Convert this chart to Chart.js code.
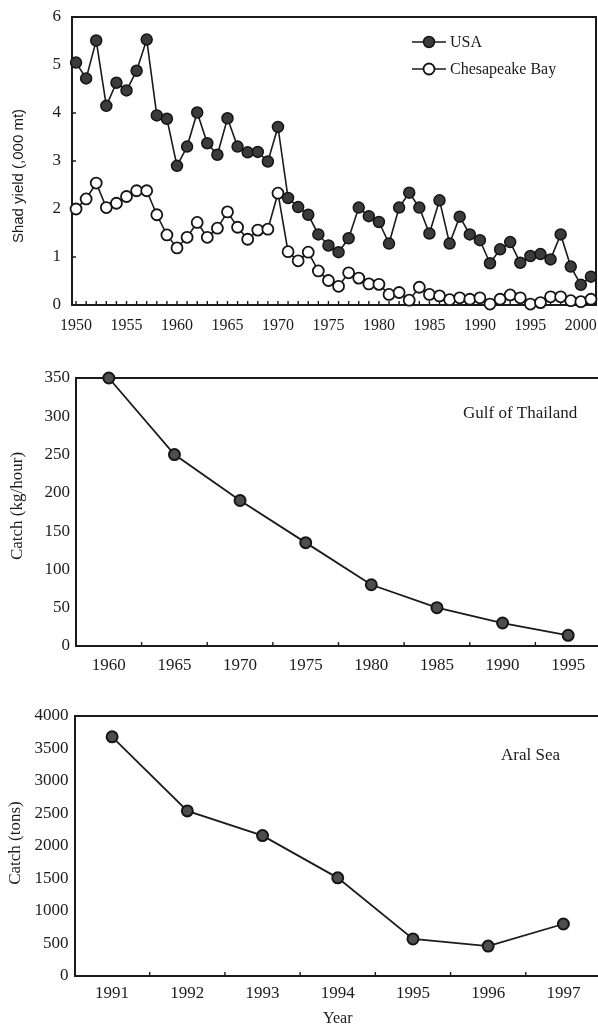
<!DOCTYPE html>
<html>
<head>
<meta charset="utf-8">
<script src="https://cdn.jsdelivr.net/npm/chart.js@4.4.0/dist/chart.umd.min.js"></script>
<style>
  html, body { margin: 0; padding: 0; background: #fff; overflow: hidden; width: 598px; height: 1030px; }
  .panel { position: absolute; left: 0; }
</style>
</head>
<body>
<div class="panel" style="top:0;width:598px;height:340px"><canvas id="shad"></canvas></div>
<div class="panel" style="top:340px;width:612px;height:350px"><canvas id="gulf"></canvas></div>
<div class="panel" style="top:690px;width:612px;height:340px"><canvas id="aral"></canvas></div>
<script>
// ---- Shad yield, 1950-2001 (thousand metric tons) ----
const shadYears = [1950, 1951, 1952, 1953, 1954, 1955, 1956, 1957, 1958, 1959,
                   1960, 1961, 1962, 1963, 1964, 1965, 1966, 1967, 1968, 1969,
                   1970, 1971, 1972, 1973, 1974, 1975, 1976, 1977, 1978, 1979,
                   1980, 1981, 1982, 1983, 1984, 1985, 1986, 1987, 1988, 1989,
                   1990, 1991, 1992, 1993, 1994, 1995, 1996, 1997, 1998, 1999,
                   2000, 2001];
const usaYield = [5.05, 4.72, 5.51, 4.15, 4.63, 4.47, 4.88, 5.53, 3.95, 3.88,
                  2.90, 3.30, 4.01, 3.37, 3.13, 3.89, 3.30, 3.18, 3.19, 2.99,
                  3.71, 2.23, 2.04, 1.88, 1.47, 1.24, 1.10, 1.39, 2.03, 1.85,
                  1.73, 1.28, 2.03, 2.34, 2.03, 1.49, 2.18, 1.28, 1.84, 1.47,
                  1.35, 0.87, 1.16, 1.31, 0.88, 1.02, 1.06, 0.95, 1.47, 0.80,
                  0.42, 0.59];
const chesapeakeYield = [2.00, 2.21, 2.54, 2.03, 2.12, 2.26, 2.38, 2.38, 1.88, 1.46,
                         1.19, 1.41, 1.72, 1.41, 1.60, 1.94, 1.62, 1.37, 1.56, 1.58,
                         2.33, 1.11, 0.92, 1.10, 0.71, 0.51, 0.39, 0.67, 0.56, 0.44,
                         0.43, 0.22, 0.26, 0.10, 0.37, 0.22, 0.19, 0.11, 0.15, 0.12,
                         0.15, 0.02, 0.12, 0.21, 0.15, 0.02, 0.05, 0.17, 0.17, 0.09,
                         0.07, 0.12];
const shadLabelYears = [1950, 1955, 1960, 1965, 1970, 1975, 1980, 1985, 1990, 1995, 2000];

// ---- Gulf of Thailand trawl catch rate (kg/hour) ----
const gulfYears = ['1960', '1965', '1970', '1975', '1980', '1985', '1990', '1995'];
const gulfCatch = [350, 250, 190, 135, 80, 50, 30, 14];

// ---- Aral Sea catch (tons) ----
const aralYears = ['1991', '1992', '1993', '1994', '1995', '1996', '1997'];
const aralCatch = [3680, 2540, 2160, 1510, 570, 460, 800];

const SERIF = '"Liberation Serif", "Times New Roman", serif';
const SANS = '"Liberation Sans", Arial, sans-serif';
const INK = '#1b1b1b';

Chart.defaults.font.family = SERIF;
Chart.defaults.color = INK;
Chart.defaults.animation = false;

// Closes the plot box (top and right edges) and draws short inward tick marks.
const frameMarks = {
  id: 'frameMarks',
  beforeDatasetsDraw(chart, args, opts) {
    const { ctx, chartArea: a, scales: { x, y } } = chart;
    ctx.save();
    ctx.strokeStyle = opts.color || INK;
    ctx.lineWidth = 2;
    ctx.beginPath();
    ctx.moveTo(a.left, a.top);
    ctx.lineTo(a.right, a.top);
    ctx.lineTo(a.right, a.bottom);
    ctx.stroke();
    ctx.lineWidth = 1.4;
    ctx.beginPath();
    if (opts.xMarks) {
      opts.xMarks(x).forEach(px => {
        ctx.moveTo(px, a.bottom);
        ctx.lineTo(px, a.bottom - opts.tickLen);
      });
    }
    if (opts.yMarks) {
      opts.yMarks(y).forEach(py => {
        ctx.moveTo(a.left, py);
        ctx.lineTo(a.left + opts.tickLen, py);
      });
    }
    ctx.stroke();
    ctx.restore();
  }
};

// Rotated y-axis caption and a free text note inside the plot.
const captions = {
  id: 'captions',
  afterDraw(chart, args, opts) {
    const ctx = chart.ctx;
    ctx.save();
    ctx.fillStyle = INK;
    ctx.textAlign = 'center';
    ctx.textBaseline = 'middle';
    if (opts.yTitle) {
      const t = opts.yTitle;
      ctx.save();
      ctx.translate(t.x, t.y);
      ctx.rotate(-Math.PI / 2);
      ctx.font = t.font;
      ctx.fillText(t.text, 0, 0);
      ctx.restore();
    }
    if (opts.note) {
      ctx.font = opts.note.font;
      ctx.textAlign = 'left';
      ctx.fillText(opts.note.text, opts.note.x, opts.note.y);
    }
    ctx.restore();
  }
};

// Line-and-marker legend keys drawn from the dataset styles.
const keyLegend = {
  id: 'keyLegend',
  afterDraw(chart, args, opts) {
    if (!opts.x) return;
    const ctx = chart.ctx;
    ctx.save();
    chart.data.datasets.forEach((ds, i) => {
      const y = opts.y + i * opts.gap;
      const x0 = opts.x, x1 = opts.x + opts.len, cx = (x0 + x1) / 2;
      ctx.strokeStyle = ds.borderColor;
      ctx.lineWidth = ds.borderWidth;
      ctx.beginPath();
      ctx.moveTo(x0, y);
      ctx.lineTo(x1, y);
      ctx.stroke();
      ctx.beginPath();
      ctx.arc(cx, y, ds.pointRadius, 0, Math.PI * 2);
      ctx.fillStyle = ds.pointBackgroundColor;
      ctx.fill();
      ctx.lineWidth = ds.pointBorderWidth;
      ctx.strokeStyle = ds.pointBorderColor;
      ctx.stroke();
      ctx.fillStyle = INK;
      ctx.font = opts.font;
      ctx.textAlign = 'left';
      ctx.textBaseline = 'middle';
      ctx.fillText(ds.label, x1 + 4, y + 1);
    });
    ctx.restore();
  }
};

const hiddenGrid = { drawOnChartArea: false, drawTicks: false };
const axisLine = { color: INK, width: 2 };
const plainNumber = v => String(v);
// Edge labels may overhang the plot box; keep the box where the layout puts it.
const noOverhang = s => { s.paddingLeft = 0; s.paddingRight = 0; s.paddingTop = 0; s.paddingBottom = 0; };

// ---------- Panel 1: shad yield ----------
new Chart(document.getElementById('shad'), {
  type: 'line',
  data: {
    datasets: [
      {
        label: 'USA',
        data: shadYears.map((yr, i) => ({ x: yr, y: usaYield[i] })),
        borderColor: INK, borderWidth: 1.6,
        pointRadius: 5.5, pointBackgroundColor: '#3b3b3b',
        pointBorderColor: '#141414', pointBorderWidth: 1.5,
        tension: 0, clip: false
      },
      {
        label: 'Chesapeake Bay',
        data: shadYears.map((yr, i) => ({ x: yr, y: chesapeakeYield[i] })),
        borderColor: INK, borderWidth: 1.6,
        pointRadius: 5.5, pointBackgroundColor: '#ffffff',
        pointBorderColor: '#141414', pointBorderWidth: 1.8,
        tension: 0, clip: false
      }
    ]
  },
  options: {
    responsive: true, maintainAspectRatio: false,
    layout: { autoPadding: false, padding: { top: 17, right: 2, left: 0, bottom: 0 } },
    plugins: {
      legend: { display: false },
      tooltip: { enabled: false },
      frameMarks: {
        tickLen: 4,
        xMarks: x => shadYears.map(v => x.getPixelForValue(v)),
        yMarks: y => [1, 2, 3, 4, 5].map(v => y.getPixelForValue(v))
      },
      captions: {
        yTitle: { text: 'Shad yield (,000 mt)', x: 19, y: 176, font: '15px ' + SANS }
      },
      keyLegend: { x: 412, y: 42, gap: 27, len: 34, font: '16px ' + SERIF }
    },
    scales: {
      x: {
        type: 'linear', min: 1949.6, max: 2001.5,
        afterBuildTicks: s => { s.ticks = shadLabelYears.map(v => ({ value: v })); },
        ticks: { autoSkip: false, maxRotation: 0, padding: 11, font: { size: 16 }, color: INK,
                 callback: plainNumber },
        grid: hiddenGrid, border: axisLine,
        afterFit: s => { s.height = 35; noOverhang(s); }
      },
      y: {
        min: 0, max: 6,
        ticks: { stepSize: 1, padding: 11, font: { size: 17 }, color: INK, callback: plainNumber },
        grid: hiddenGrid, border: axisLine,
        afterFit: s => { s.width = 72; noOverhang(s); }
      }
    }
  },
  plugins: [frameMarks, captions, keyLegend]
});

// Tick marks sit half-way between neighbouring categories.
const betweenCategories = (x, n) => {
  const out = [];
  for (let i = 0; i < n - 1; i++) {
    out.push((x.getPixelForValue(i) + x.getPixelForValue(i + 1)) / 2);
  }
  return out;
};

const catMarker = {
  borderColor: INK, borderWidth: 1.8,
  pointRadius: 5.5, pointBackgroundColor: '#4e4e4e',
  pointBorderColor: '#161616', pointBorderWidth: 2,
  tension: 0, clip: false
};

// ---------- Panel 2: Gulf of Thailand ----------
new Chart(document.getElementById('gulf'), {
  type: 'line',
  data: {
    labels: gulfYears,
    datasets: [Object.assign({ label: 'Gulf of Thailand', data: gulfCatch }, catMarker)]
  },
  options: {
    responsive: true, maintainAspectRatio: false,
    layout: { autoPadding: false, padding: { top: 38, right: 11, left: 0, bottom: 0 } },
    plugins: {
      legend: { display: false },
      tooltip: { enabled: false },
      frameMarks: { tickLen: 4, xMarks: x => betweenCategories(x, gulfYears.length) },
      captions: {
        yTitle: { text: 'Catch (kg/hour)', x: 18, y: 166, font: '17px ' + SERIF },
        note: { text: 'Gulf of Thailand', x: 463, y: 74, font: '17px ' + SERIF }
      }
    },
    scales: {
      x: {
        type: 'category', offset: true,
        ticks: { autoSkip: false, maxRotation: 0, padding: 9, font: { size: 17 }, color: INK },
        grid: Object.assign({ offset: true }, hiddenGrid), border: axisLine,
        afterFit: s => { s.height = 44; noOverhang(s); }
      },
      y: {
        min: 0, max: 350,
        ticks: { stepSize: 50, padding: 6, font: { size: 17 }, color: INK, callback: plainNumber },
        grid: hiddenGrid, border: axisLine,
        afterFit: s => { s.width = 76; noOverhang(s); }
      }
    }
  },
  plugins: [frameMarks, captions]
});

// ---------- Panel 3: Aral Sea ----------
new Chart(document.getElementById('aral'), {
  type: 'line',
  data: {
    labels: aralYears,
    datasets: [Object.assign({ label: 'Aral Sea', data: aralCatch }, catMarker)]
  },
  options: {
    responsive: true, maintainAspectRatio: false,
    layout: { autoPadding: false, padding: { top: 26, right: 11, left: 0, bottom: 0 } },
    plugins: {
      legend: { display: false },
      tooltip: { enabled: false },
      frameMarks: { tickLen: 4, xMarks: x => betweenCategories(x, aralYears.length) },
      captions: {
        yTitle: { text: 'Catch (tons)', x: 16, y: 153, font: '17px ' + SERIF },
        note: { text: 'Aral Sea', x: 501, y: 66, font: '17px ' + SERIF }
      }
    },
    scales: {
      x: {
        type: 'category', offset: true,
        ticks: { autoSkip: false, maxRotation: 0, padding: 7, font: { size: 17 }, color: INK },
        grid: Object.assign({ offset: true }, hiddenGrid), border: axisLine,
        title: { display: true, text: 'Year', font: { size: 16 }, color: INK, padding: { top: 0, bottom: 2 } },
        afterFit: s => { s.height = 54; noOverhang(s); }
      },
      y: {
        min: 0, max: 4000,
        ticks: { stepSize: 500, padding: 6, font: { size: 17 }, color: INK, callback: plainNumber },
        grid: hiddenGrid, border: axisLine,
        afterFit: s => { s.width = 74.5; noOverhang(s); }
      }
    }
  },
  plugins: [frameMarks, captions]
});
</script>
</body>
</html>
